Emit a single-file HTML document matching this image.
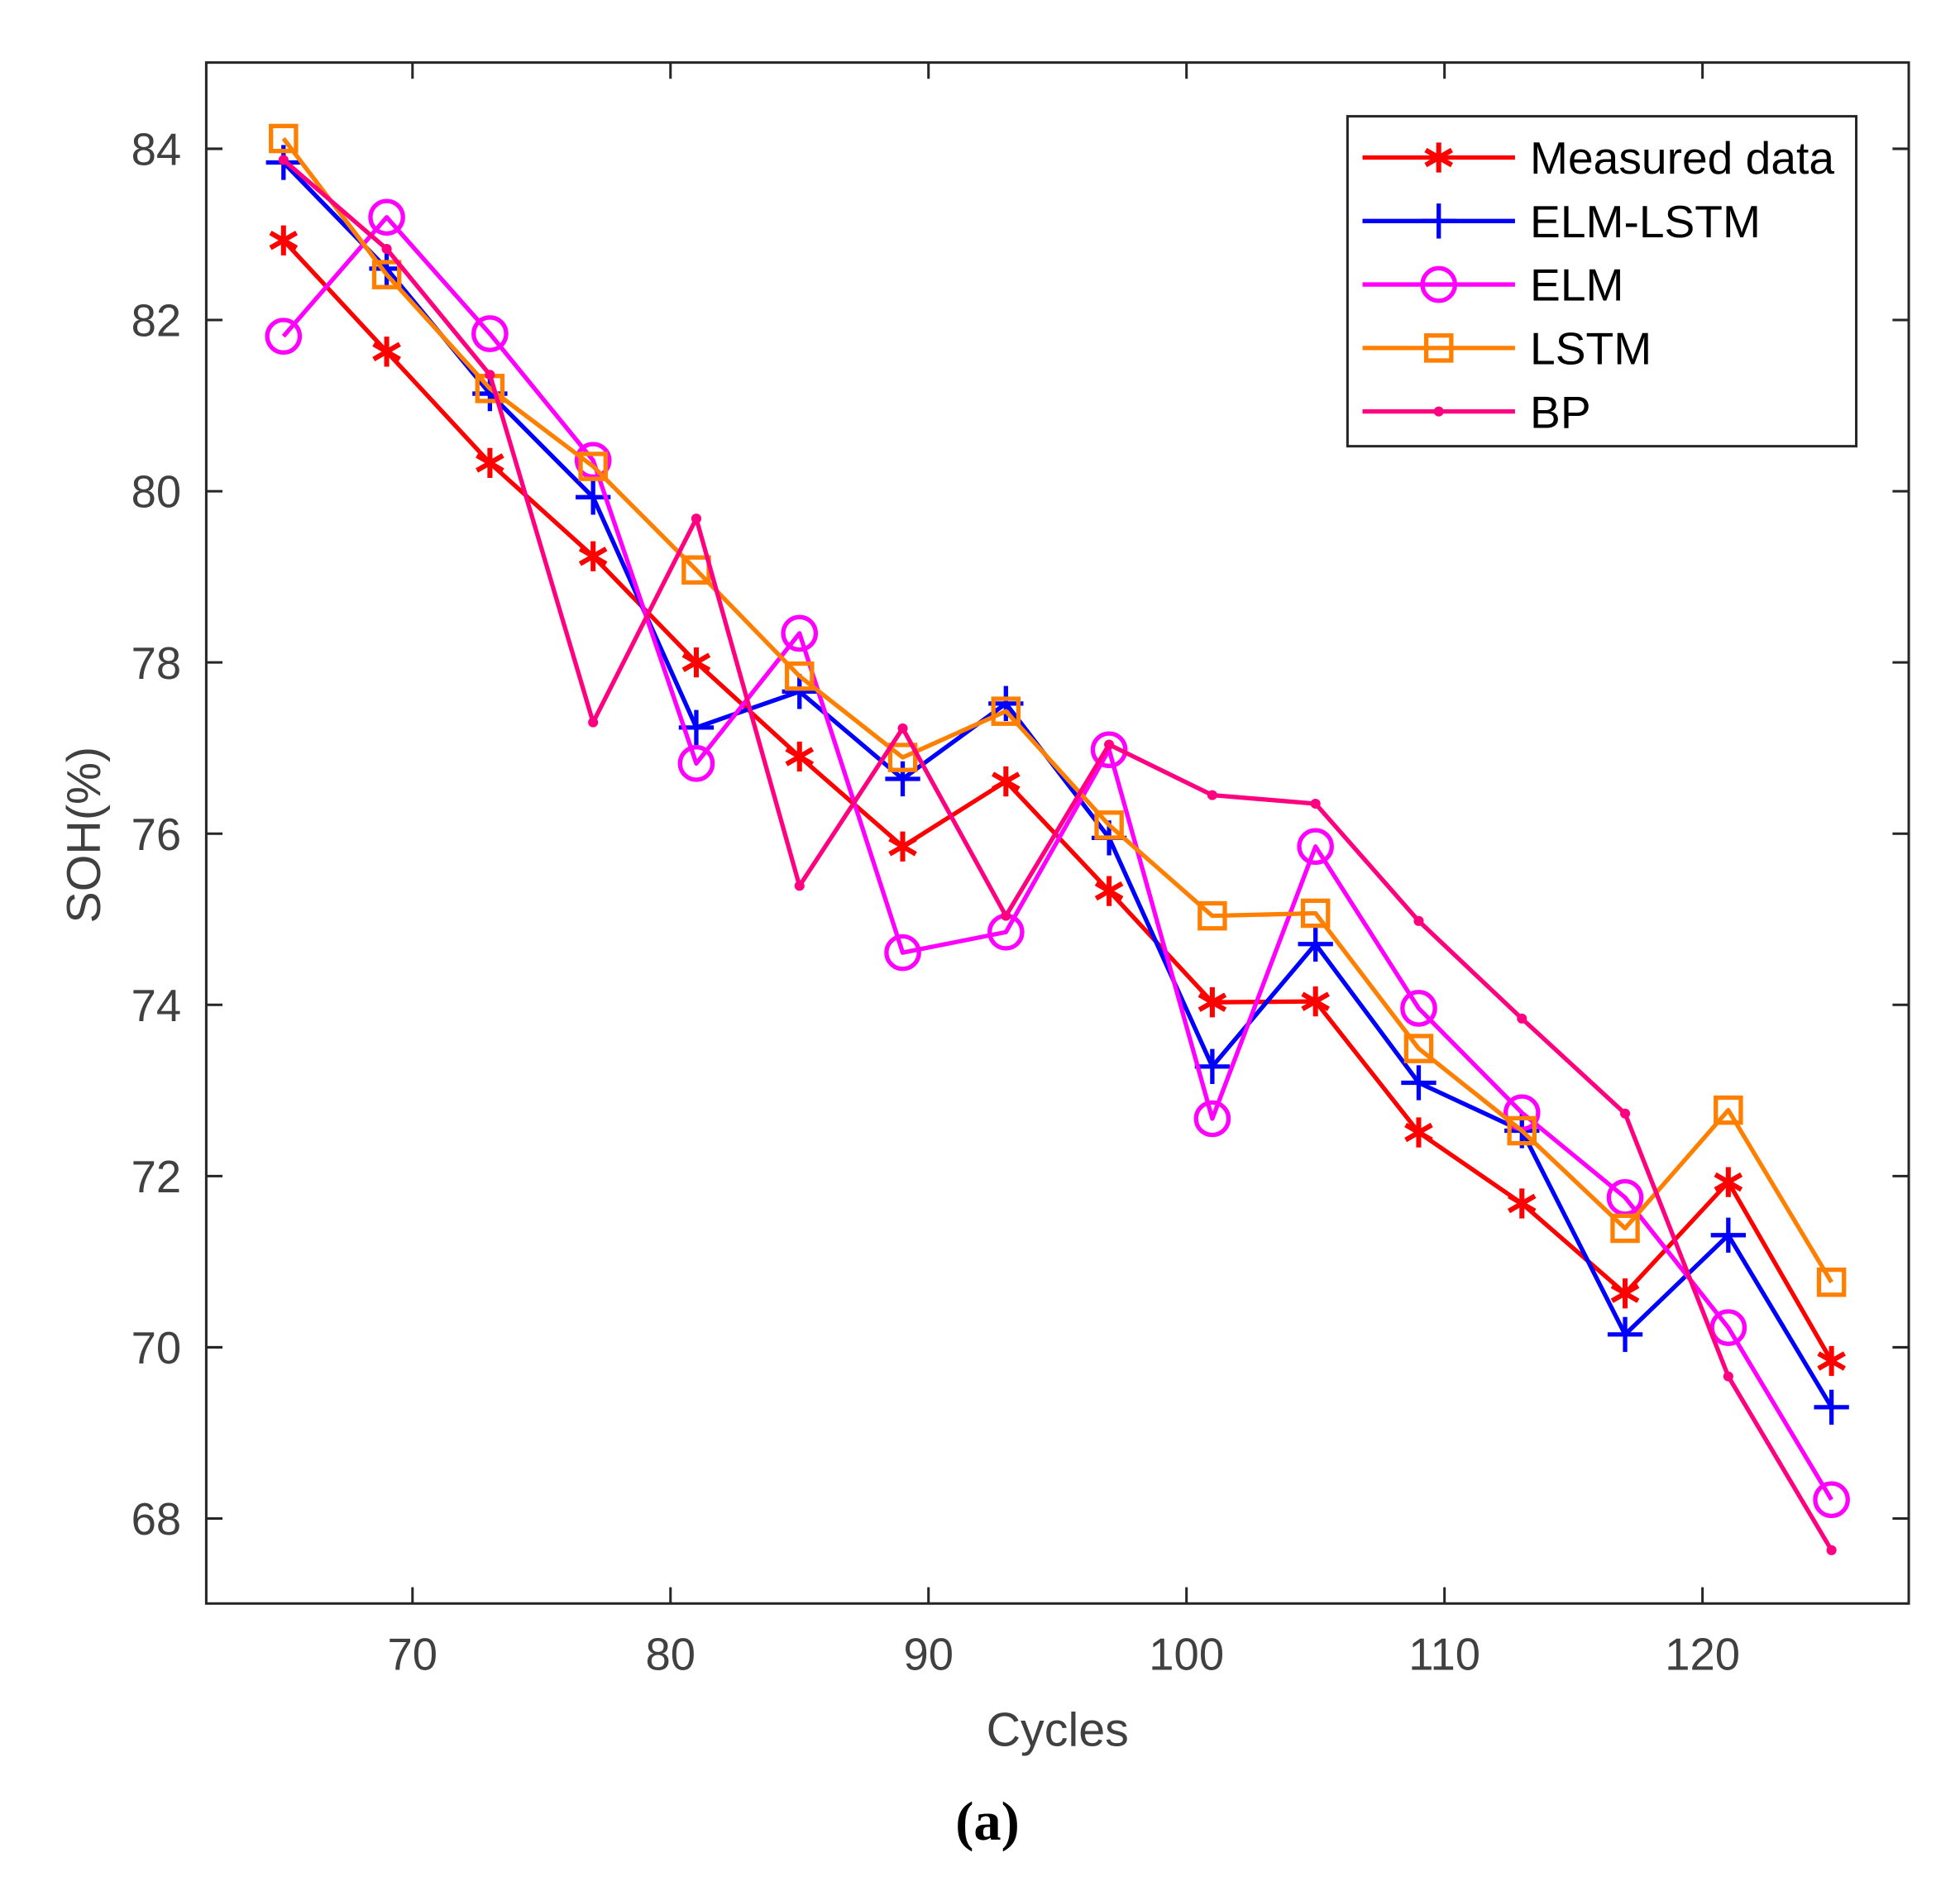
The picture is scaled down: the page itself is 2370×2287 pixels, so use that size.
<!DOCTYPE html>
<html><head><meta charset="utf-8"><style>
html,body{margin:0;padding:0;background:#fff}
svg{display:block}
text{font-family:"Liberation Sans",Arial,sans-serif}
</style></head><body>
<svg id="chart" width="2370" height="2287" viewBox="0 0 1568 1513" xmlns="http://www.w3.org/2000/svg">
<rect x="0" y="0" width="1568" height="1513" fill="#fff"/>
<g id="plot"></g>
<text x="846" y="1397" font-size="38" fill="#404040" text-anchor="middle">Cycles</text>
<text x="0" y="0" font-size="38" fill="#404040" text-anchor="middle" transform="translate(80,668) rotate(-90)">SOH(%)</text>
<text x="790" y="1472" font-size="44" font-weight="bold" fill="#000" text-anchor="middle" style="font-family:'Liberation Serif',serif">(a)</text>
</svg>
<script>
const cycles=[65,69,73,77,81,85,89,93,97,101,105,109,113,117,121,125];
const measured=[82.93,81.63,80.33,79.24,78.0,76.9,75.85,76.61,75.33,74.03,74.04,72.51,71.68,70.63,71.93,69.84];
const elmLstm=[83.84,82.6,81.14,79.93,77.24,77.66,76.64,77.52,75.95,73.28,74.71,73.09,72.53,70.15,71.31,69.3];
const elm=[81.81,83.2,81.84,80.36,76.82,78.34,74.61,74.85,76.98,72.67,75.85,73.96,72.74,71.75,70.23,68.22];
const lstm=[84.12,82.53,81.2,80.29,79.08,77.84,76.89,77.43,76.1,75.04,75.07,73.49,72.53,71.39,72.77,70.76];
const bp=[83.87,82.83,81.36,77.3,79.68,75.39,77.23,75.04,77.04,76.45,76.35,74.98,73.84,72.73,69.66,67.63];
const xTicks=[70,80,90,100,110,120];
const yTicks=[68,70,72,74,76,78,80,82,84];
const seriesNames=["Measured data","ELM-LSTM","ELM","LSTM","BP"];

const NS="http://www.w3.org/2000/svg";
const L=165,R=1527,T=50,B=1283;
function xs(v){return 330+(v-70)*20.64;}
function ys(v){return 1215-(v-68)*68.5;}
const g=document.getElementById('plot');
function mk(tag,attrs,parent){const e=document.createElementNS(NS,tag);for(const k in attrs)e.setAttribute(k,attrs[k]);(parent||g).appendChild(e);return e;}

const ax=mk('rect',{x:L,y:T,width:R-L,height:B-T,fill:'none',stroke:'#262626','stroke-width':2});


xTicks.forEach(t=>{
  const x=xs(t);
  const tk=mk('path',{d:`M${x},${B}V${B-13}M${x},${T}V${T+13}`,stroke:'#262626','stroke-width':2});
  
  
  const tl=mk('text',{x:x,y:B+53,'font-size':36,fill:'#404040','text-anchor':'middle'});
  tl.textContent=t;
  
  
});
yTicks.forEach(t=>{
  const y=ys(t);
  const tk=mk('path',{d:`M${L},${y}H${L+13}M${R},${y}H${R-13}`,stroke:'#262626','stroke-width':2});
  
  
  const tl=mk('text',{x:L-20,y:y+13,'font-size':36,fill:'#404040','text-anchor':'end'});
  tl.textContent=t;
  
  
});

function marker(type,x,y,c,parent){
  if(type==='star'){
    const r=12;
    return mk('path',{d:`M${x},${y-r}V${y+r}M${x-r*0.87},${y-r/2}L${x+r*0.87},${y+r/2}M${x-r*0.87},${y+r/2}L${x+r*0.87},${y-r/2}`,stroke:c,'stroke-width':4,fill:'none'},parent);
  }else if(type==='plus'){
    const r=14;
    return mk('path',{d:`M${x},${y-r}V${y+r}M${x-r},${y}H${x+r}`,stroke:c,'stroke-width':3.5,fill:'none'},parent);
  }else if(type==='circle'){
    return mk('circle',{cx:x,cy:y,r:13,stroke:c,'stroke-width':3.5,fill:'none'},parent);
  }else if(type==='square'){
    return mk('rect',{x:x-10,y:y-10,width:20,height:20,stroke:c,'stroke-width':3.5,fill:'none'},parent);
  }else{
    return mk('circle',{cx:x,cy:y,r:4,fill:c},parent);
  }
}
const defs=[
  {name:'measured',vals:measured,color:'#ff0000',m:'star'},
  {name:'elm-lstm',vals:elmLstm,color:'#0000ff',m:'plus'},
  {name:'elm',vals:elm,color:'#ff00ff',m:'circle'},
  {name:'lstm',vals:lstm,color:'#ff8000',m:'square'},
  {name:'bp',vals:bp,color:'#ff0080',m:'dot'}
];
defs.forEach(s=>{
  const sg=mk('g',{});
  
  
  const pts=s.vals.map((v,i)=>xs(cycles[i])+','+ys(v)).join(' ');
  const pl=mk('polyline',{points:pts,fill:'none',stroke:s.color,'stroke-width':3.5,'stroke-linejoin':'round'},sg);
  
  
  s.vals.forEach((v,i)=>{
    const m=marker(s.m,xs(cycles[i]),ys(v),s.color,sg);
    
    
  });
});
const lg=mk('g',{});


const lb=mk('rect',{x:1078,y:93,width:407,height:264,fill:'#fff',stroke:'#262626','stroke-width':2},lg);


defs.forEach((s,i)=>{
  const y=126+i*50.8;
  const eg=mk('g',{},lg);
  
  
  mk('path',{d:`M1090,${y}H1212`,stroke:s.color,'stroke-width':3.5},eg);
  marker(s.m,1151,y,s.color,eg);
  const t=mk('text',{x:1224,y:y+13,'font-size':36.5,fill:'#000'},eg);
  t.textContent=seriesNames[i];
});
</script>
</body></html>
